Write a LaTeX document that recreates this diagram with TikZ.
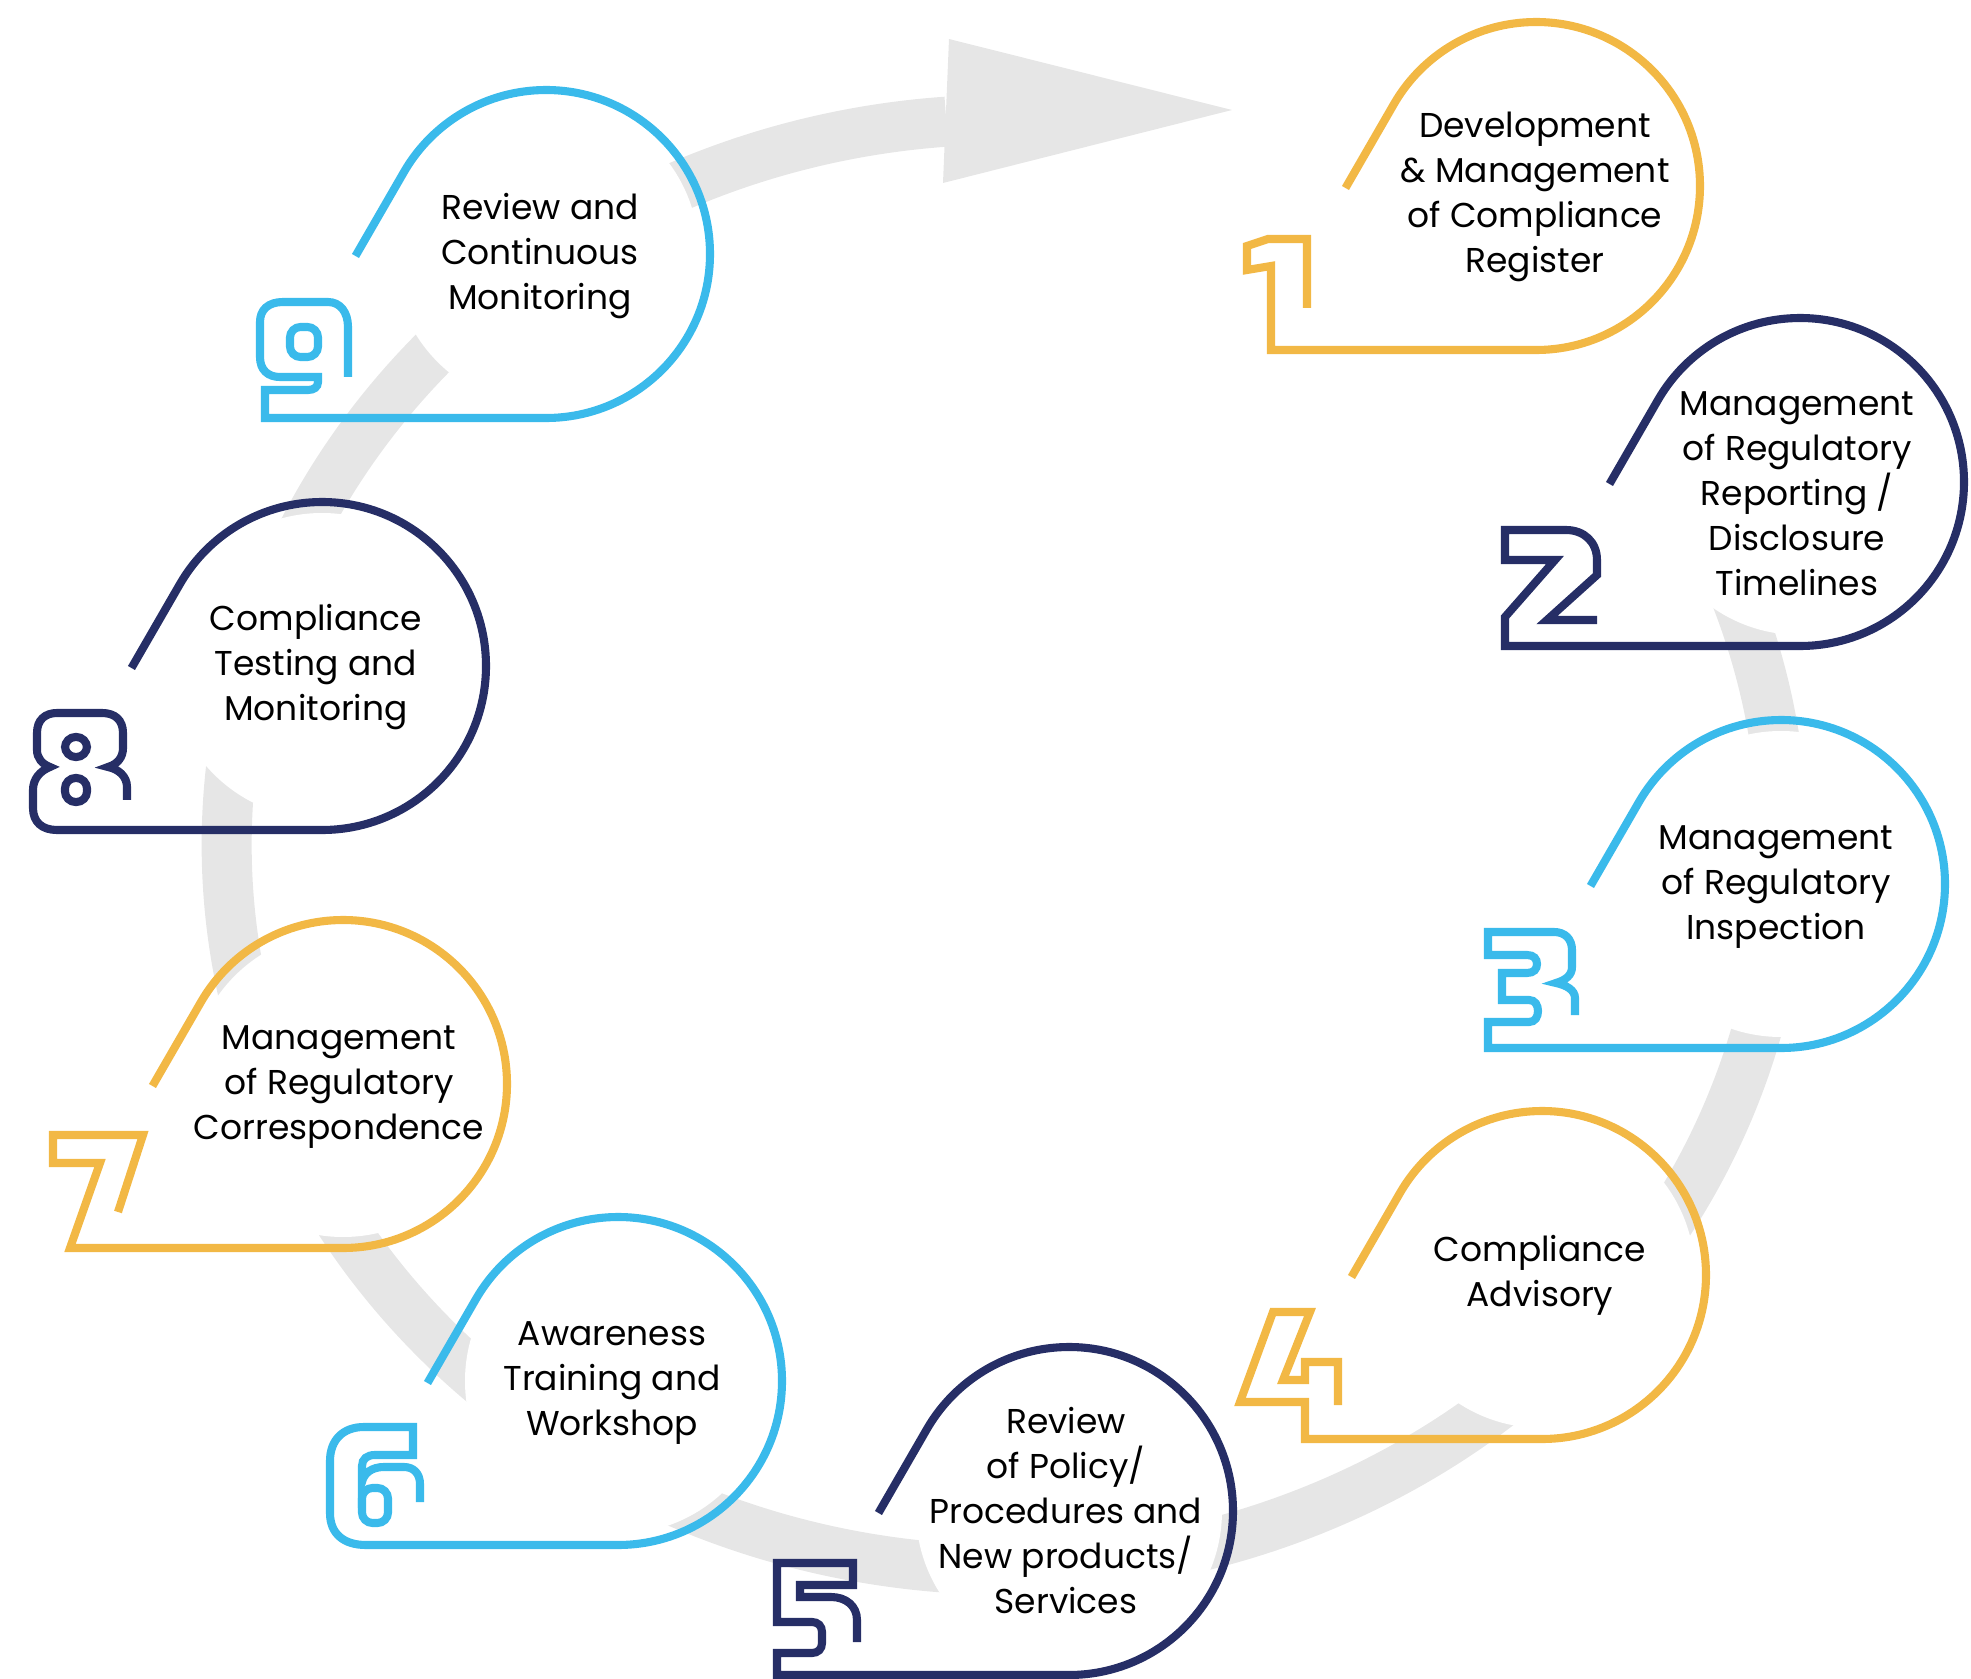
\documentclass[tikz,border=0pt]{standalone}
\usepackage{fontspec}
\setmainfont{Poppins}
\usepackage{tikz}
\definecolor{cyclegold}{RGB}{242,184,69}
\definecolor{cyclenavy}{RGB}{38,46,102}
\definecolor{cyclesky}{RGB}{58,186,235}
\definecolor{cyclegrey}{RGB}{230,230,230}
\tikzstyle{band} = [line width=0.5cm, cyclegrey]
\tikzstyle{outline} = [line width=2.3pt]
\tikzstyle{stage} = [align=center, text=black, font=\fontsize{9.8}{12.8}\selectfont]

\begin{document}
\begin{tikzpicture}[x=0.01cm, y=0.01cm]
    \useasboundingbox (0,0) rectangle (1971,-1679);

    \draw [band] (1726,-573) arc [start angle=22, end angle=-265.7, x radius=778, y radius=725];
    \fill [cyclegrey] (949,-39) -- (1232,-110) -- (943,-183) -- cycle;

    \fill [white] (1536,-186) circle [radius=153];
    \fill [white] (1800,-482) circle [radius=153];
    \fill [white] (1781,-884) circle [radius=153];
    \fill [white] (1542,-1275) circle [radius=153];
    \fill [white] (1069,-1511) circle [radius=153];
    \fill [white] (618,-1381) circle [radius=153];
    \fill [white] (343,-1084) circle [radius=153];
    \fill [white] (322,-666) circle [radius=153];
    \fill [white] (546,-254) circle [radius=153];

    \draw [outline, cyclegold] (1307,-308) -- (1307,-239) -- (1268,-239) -- (1247,-246) -- (1247,-270) -- (1271,-266) -- (1271,-350) -- (1536,-350) arc [start angle=-90, end angle=150, radius=164] -- ++(240:97);
    \draw [outline, cyclenavy] (1597,-620) -- (1547,-620) -- (1597,-575) -- (1597,-560) .. controls (1597,-542) and (1584,-530) .. (1566,-530) -- (1505,-530) -- (1505,-560) -- (1555,-560) -- (1505,-617) -- (1505,-646) -- (1800,-646) arc [start angle=-90, end angle=150, radius=164] -- ++(240:97);
    \draw [outline, cyclesky] (1575,-1015) -- (1575,-998) .. controls (1575,-990) and (1566,-985) .. (1556,-983) .. controls (1566,-980) and (1572,-975) .. (1572,-967) -- (1572,-950) .. controls (1572,-939) and (1565,-932) .. (1554,-932) -- (1488,-932) -- (1488,-955) -- (1527,-955) .. controls (1534,-955) and (1537,-959) .. (1537,-964) .. controls (1537,-969) and (1534,-973) .. (1527,-973) -- (1502,-973) -- (1502,-1000) -- (1529,-1000) .. controls (1535,-1000) and (1538,-1005) .. (1538,-1011) .. controls (1538,-1017) and (1535,-1022) .. (1529,-1022) -- (1488,-1022) -- (1488,-1048) -- (1781,-1048) arc [start angle=-90, end angle=150, radius=164] -- ++(240:97);
    \draw [outline, cyclegold] (1338,-1405) -- (1338,-1362) -- (1305,-1362) -- (1305,-1380) -- (1283,-1380) -- (1310,-1312) -- (1273,-1312) -- (1240,-1402) -- (1305,-1402) -- (1305,-1439) -- (1542,-1439) arc [start angle=-90, end angle=150, radius=164] -- ++(240:97);
    \draw [outline, cyclenavy] (857,-1642) -- (857,-1620) .. controls (857,-1606) and (846,-1597) .. (831,-1597) -- (800,-1597) -- (800,-1585) -- (853,-1585) -- (853,-1563) -- (777,-1563) -- (777,-1622) -- (812,-1622) .. controls (818,-1622) and (822,-1626) .. (822,-1632) -- (822,-1643) .. controls (822,-1649) and (818,-1653) .. (812,-1653) -- (777,-1653) -- (777,-1675) -- (1069,-1675) arc [start angle=-90, end angle=150, radius=164] -- ++(240:97);
    \draw [outline, cyclesky] (420,-1502) -- (420,-1484) .. controls (420,-1474) and (414,-1467) .. (404,-1467) -- (384,-1467) .. controls (372,-1467) and (364,-1473) .. (362,-1482) -- (362,-1466) .. controls (362,-1459) and (367,-1455) .. (375,-1455) -- (413,-1455) -- (413,-1427) -- (364,-1427) .. controls (343,-1427) and (330,-1440) .. (330,-1461) -- (330,-1513) .. controls (330,-1534) and (344,-1545) .. (366,-1545) -- (618,-1545) arc [start angle=-90, end angle=150, radius=164] -- ++(240:97);
    \draw [outline, cyclesky, rounded corners=3pt] (362,-1488) rectangle (388,-1523);
    \draw [outline, cyclegold] (118,-1212) -- (143,-1135) -- (53,-1135) -- (53,-1163) -- (100,-1163) -- (70,-1248) -- (343,-1248) arc [start angle=-90, end angle=150, radius=164] -- ++(240:97);
    \draw [outline, cyclenavy] (127,-800) -- (127,-787) .. controls (127,-776) and (118,-769) .. (108,-767) .. controls (118,-764) and (123,-757) .. (123,-748) -- (123,-733) .. controls (123,-720) and (115,-713) .. (102,-713) -- (57,-713) .. controls (45,-713) and (37,-720) .. (37,-733) -- (37,-750) .. controls (37,-758) and (42,-764) .. (50,-767) .. controls (40,-771) and (33,-779) .. (33,-790) -- (33,-808) .. controls (33,-822) and (42,-830) .. (57,-830) -- (322,-830) arc [start angle=-90, end angle=150, radius=164] -- ++(240:97);
    \draw [outline, cyclenavy, rounded corners=3pt] (65,-737) rectangle (87,-757);
    \draw [outline, cyclenavy, rounded corners=3pt] (65,-778) rectangle (87,-802);
    \draw [outline, cyclesky] (348,-377) -- (348,-327) .. controls (348,-312) and (340,-302) .. (328,-302) -- (283,-302) .. controls (268,-302) and (260,-310) .. (260,-322) -- (260,-357) .. controls (260,-370) and (268,-377) .. (280,-377) -- (318,-377) -- (318,-382) .. controls (318,-387) and (314,-390) .. (308,-390) -- (265,-390) -- (265,-418) -- (546,-418) arc [start angle=-90, end angle=150, radius=164] -- ++(240:97);
    \draw [outline, cyclesky, rounded corners=3pt] (290,-327) rectangle (318,-357);

    \node [stage] at (1535,-197) (register) {Development\\\& Management\\of Compliance\\Register};
    \node [stage] at (1797,-494) (reporting) {Management\\of Regulatory\\Reporting /\\Disclosure\\Timelines};
    \node [stage] at (1776,-887) (inspection) {Management\\of Regulatory\\Inspection};
    \node [stage] at (1540,-1275) (advisory) {Compliance\\Advisory};
    \node [stage] at (1066,-1511) (policy) {Review\\of Policy/\\Procedures and\\New products/\\Services};
    \node [stage] at (612,-1383) (awareness) {Awareness\\Training and\\Workshop};
    \node [stage] at (339,-1087) (correspondence) {Management\\of Regulatory\\Correspondence};
    \node [stage] at (316,-667) (testing) {Compliance\\Testing and\\Monitoring};
    \node [stage] at (540,-256) (review) {Review and\\Continuous\\Monitoring};
\end{tikzpicture}
\end{document}
